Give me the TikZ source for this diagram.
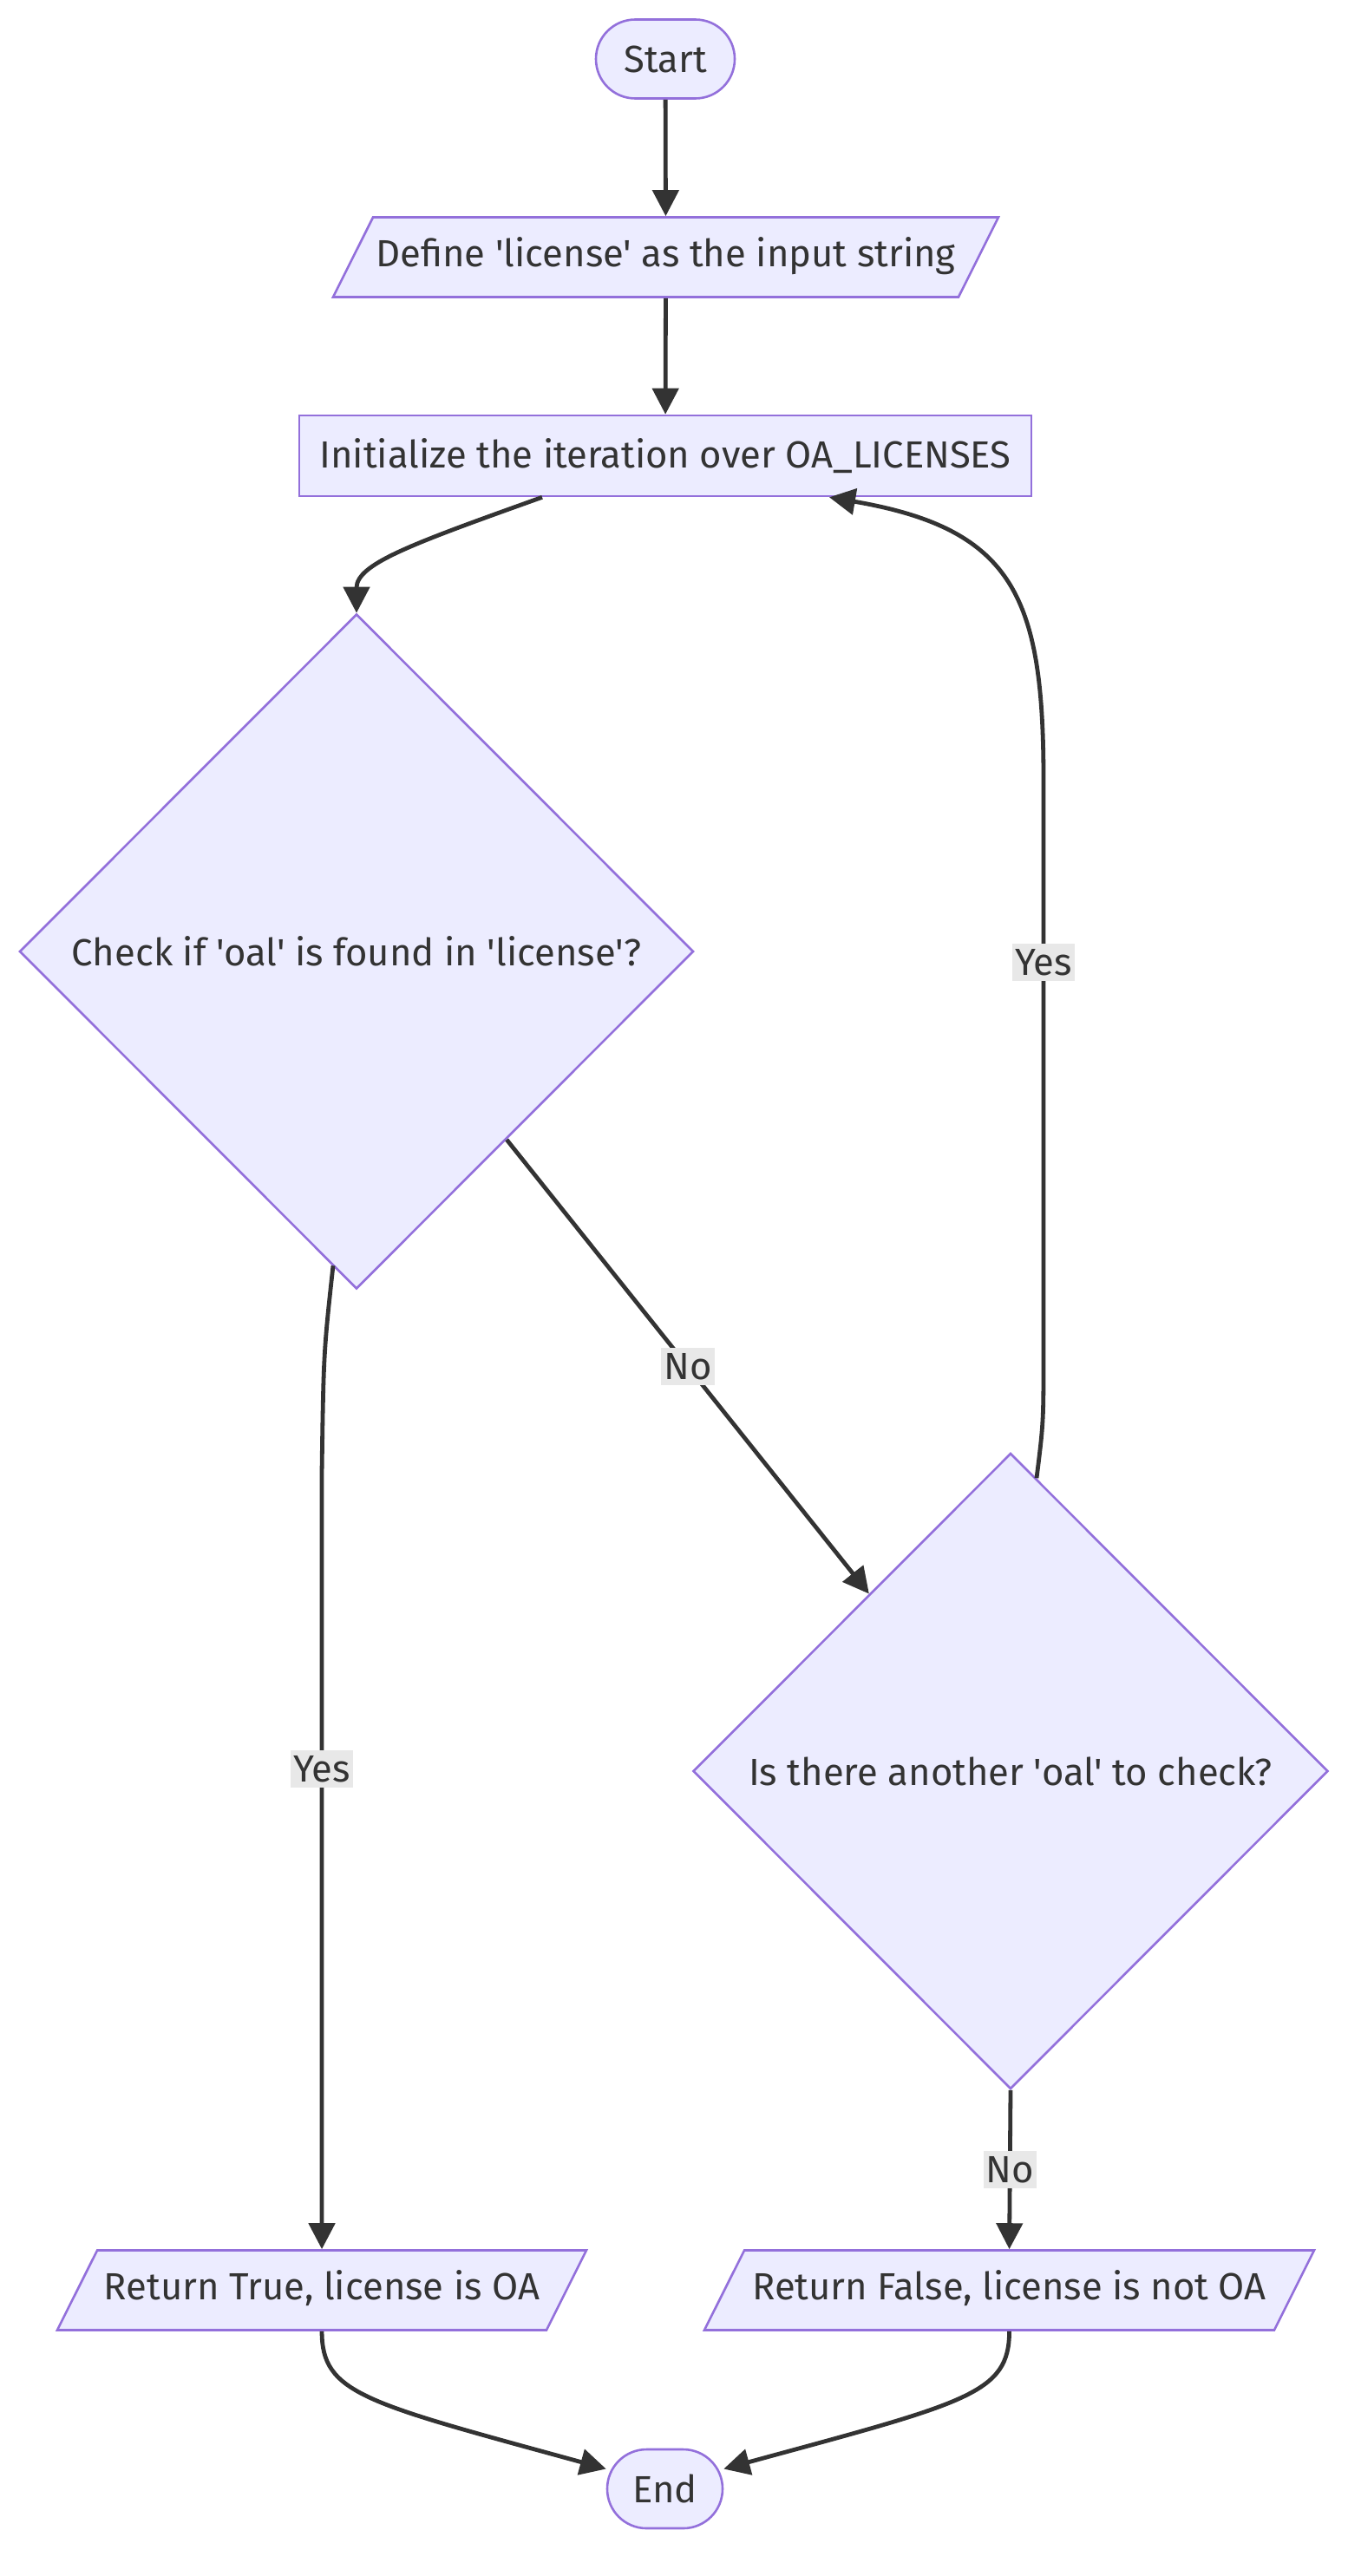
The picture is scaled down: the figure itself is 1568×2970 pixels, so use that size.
\documentclass[tikz,border=0pt]{standalone}
\usepackage{fontspec}
\setmainfont{Fira Sans}[Ligatures=TeXOff]
\usetikzlibrary{shapes.geometric, arrows.meta, positioning, calc}
\definecolor{nodefill}{HTML}{ECECFF}
\definecolor{nodeline}{HTML}{9370DB}
\definecolor{inkgray}{HTML}{333333}
\definecolor{lblfill}{HTML}{E8E8E8}
\tikzset{
  base/.style={draw=nodeline, fill=nodefill, line width=1.3pt, text=inkgray, font=\fontsize{21.8}{26}\selectfont, inner sep=0pt},
  terminal/.style={base, rectangle, rounded corners=22.7pt, minimum height=45.5pt},
  io/.style={base, trapezium, trapezium left angle=63.4, trapezium right angle=116.6, trapezium stretches body=true,
    text height=15.5pt, text depth=5pt, inner ysep=12.75pt},
  process/.style={base, rectangle, minimum height=46.5pt},
  decision/.style={base, diamond, aspect=1},
  flow/.style={draw=inkgray, line width=2.4pt, -{Triangle[length=15pt,width=15pt]}},
  lbl/.style={fill=lblfill, text=inkgray, font=\fontsize{21.8}{26}\selectfont, inner xsep=1.5pt, inner ysep=3pt}
}

\begin{document}
\begin{tikzpicture}[x=0.5pt, y=-0.5pt]
  \useasboundingbox (0,0) rectangle (1568,2970);

  \node[terminal, minimum width=80pt] (start) at (767,68) {Start};
  \node[io, minimum width=383.5pt] (define) at (767.5,296.5) {Define 'license' as the input string};
  \node[process, minimum width=422pt] (init) at (767,525.5) {Initialize the iteration over OA\_LICENSES};
  \node[decision, minimum width=388.5pt, minimum height=389pt] (check) at (411,1097) {Check if 'oal' is found in 'license'?};
  \node[decision, minimum width=366pt, minimum height=366.5pt] (another) at (1165,2042) {Is there another 'oal' to check?};
  \node[io, minimum width=305pt] (rtrue) at (371,2640.5) {Return True, license is OA};
  \node[io, minimum width=351.5pt] (rfalse) at (1163.5,2640.5) {Return False, license is not OA};
  \node[terminal, minimum width=66.5pt] (end) at (766.5,2869.5) {End};

  \draw[flow] (start) -- (define);
  \draw[flow] (define) -- (init);
  \draw[flow] ([xshift=-71pt]init.south) .. controls (475,627) and (411,650) .. (check.north);
  \draw[flow] (check) -- node[lbl]{No} (another);
  \draw[flow] ([xshift=15pt,yshift=-15pt]another.north) .. controls (1203,1640) .. (1203,1555)
    -- node[lbl, pos=0.68]{Yes} (1203,900) .. controls (1203,690) and (1170,610) .. ([xshift=94.5pt]init.south);
  \draw[flow] ([xshift=-13.5pt,yshift=14pt]check.south) .. controls (373,1560) .. (371,1700)
    -- node[lbl, pos=0.38]{Yes} (rtrue.north);
  \draw[flow] (another.south) -- node[lbl]{No} (rfalse.north);
  \draw[flow] (rtrue.south) .. controls (371,2760) and (420,2770) .. ([yshift=11.5pt]end.west);
  \draw[flow] (rfalse.south) .. controls (1163.5,2760) and (1115,2770) .. ([yshift=11.5pt]end.east);
\end{tikzpicture}
\end{document}
